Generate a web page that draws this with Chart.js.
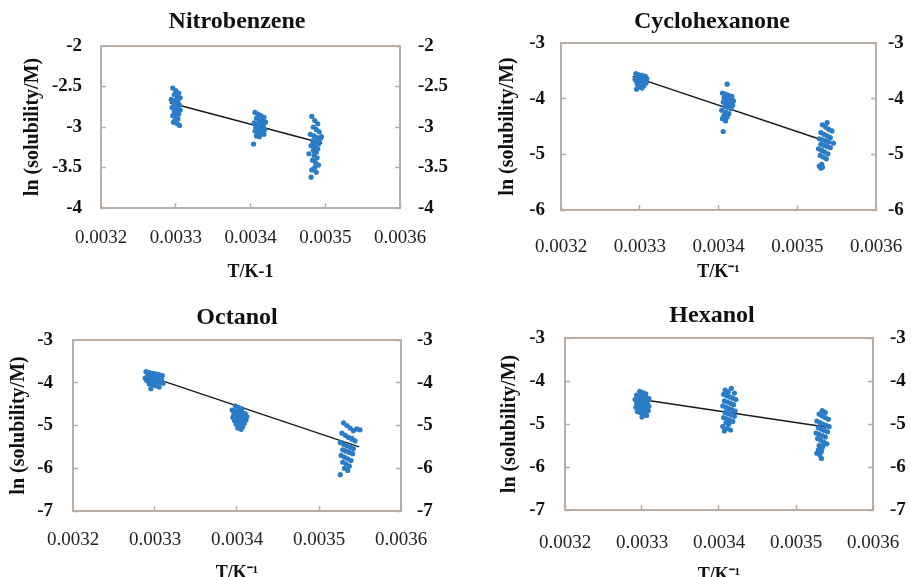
<!DOCTYPE html>
<html>
<head>
<meta charset="utf-8">
<script src="https://cdn.jsdelivr.net/npm/chart.js@4.4.1/dist/chart.umd.min.js"></script>
<style>
  body { margin: 0; width: 911px; height: 577px; overflow: hidden; background: #fff; position: relative; }
  canvas { position: absolute; }
</style>
</head>
<body>
<canvas id="c1" width="474" height="290" style="left:0px;top:0px"></canvas>
<canvas id="c2" width="474" height="290" style="left:475px;top:0px"></canvas>
<canvas id="c3" width="474" height="300" style="left:0px;top:290px"></canvas>
<canvas id="c4" width="474" height="300" style="left:475px;top:290px"></canvas>
<script>
/* --------------- Tick labels --------------- */
const xTicks = [0.0032, 0.0033, 0.0034, 0.0035, 0.0036];
const nitroYTicks = [-4, -3.5, -3, -2.5, -2];
const cycloYTicks = [-6, -5, -4, -3];
const octYTicks = [-7, -6, -5, -4, -3];
const hexYTicks = [-7, -6, -5, -4, -3];

/* --------------- Nitrobenzene (3 temperature clusters) --------------- */
const nitroX = [
  [0.003296,0.003300,0.003304,0.003298,0.003302,0.003306,0.003294,0.003300,0.003303,0.003297,0.003301,0.003305,0.003299,0.003295,0.003302,0.003306,0.003298,0.003301,0.003304,0.003296,0.003300,0.003303,0.003299,0.003297,0.003302,0.003305,0.003300,0.003298],
  [0.003406,0.003410,0.003414,0.003418,0.003408,0.003412,0.003416,0.003420,0.003405,0.003409,0.003413,0.003417,0.003407,0.003411,0.003415,0.003419,0.003406,0.003410,0.003414,0.003418,0.003408,0.003412,0.003416,0.003411,0.003415,0.003404],
  [0.003482,0.003486,0.003490,0.003484,0.003488,0.003492,0.003480,0.003485,0.003489,0.003493,0.003483,0.003487,0.003491,0.003481,0.003486,0.003490,0.003484,0.003488,0.003478,0.003485,0.003489,0.003483,0.003487,0.003491,0.003486,0.003482,0.003488,0.003495,0.003484,0.003481]
];
const nitroY = [
  [-2.52,-2.55,-2.58,-2.60,-2.62,-2.64,-2.66,-2.67,-2.69,-2.70,-2.72,-2.73,-2.75,-2.76,-2.78,-2.79,-2.81,-2.83,-2.84,-2.86,-2.88,-2.90,-2.92,-2.94,-2.96,-2.98,-2.74,-2.68],
  [-2.82,-2.84,-2.86,-2.88,-2.89,-2.91,-2.92,-2.94,-2.95,-2.96,-2.97,-2.98,-3.00,-3.01,-3.02,-3.03,-3.05,-3.06,-3.07,-3.09,-3.11,-3.12,-2.93,-2.99,-3.04,-3.21],
  [-2.87,-2.92,-2.96,-3.00,-3.03,-3.06,-3.09,-3.11,-3.13,-3.15,-3.17,-3.19,-3.21,-3.23,-3.25,-3.27,-3.29,-3.31,-3.33,-3.35,-3.38,-3.41,-3.44,-3.47,-3.50,-3.53,-3.56,-3.12,-3.22,-3.62]
];
const nitroFitX = [0.003292, 0.003496];
const nitroFitY = [-2.70, -3.20];

/* --------------- Cyclohexanone --------------- */
const cycloX = [
  [0.003295,0.003299,0.003303,0.003307,0.003297,0.003301,0.003305,0.003309,0.003294,0.003298,0.003302,0.003306,0.003296,0.003300,0.003304,0.003308,0.003297,0.003301,0.003305,0.003299,0.003303,0.003296],
  [0.003411,0.003405,0.003409,0.003413,0.003417,0.003407,0.003411,0.003415,0.003419,0.003406,0.003410,0.003414,0.003418,0.003408,0.003412,0.003416,0.003404,0.003409,0.003413,0.003407,0.003411,0.003405,0.003409,0.003406],
  [0.003538,0.003532,0.003536,0.003540,0.003544,0.003530,0.003534,0.003538,0.003542,0.003528,0.003532,0.003536,0.003540,0.003546,0.003530,0.003534,0.003538,0.003542,0.003527,0.003531,0.003535,0.003539,0.003529,0.003533,0.003537,0.003531,0.003528,0.003532,0.003530]
];
const cycloY = [
  [-3.55,-3.57,-3.58,-3.60,-3.61,-3.62,-3.63,-3.64,-3.65,-3.66,-3.67,-3.68,-3.69,-3.70,-3.71,-3.72,-3.74,-3.75,-3.77,-3.79,-3.81,-3.83],
  [-3.74,-3.90,-3.92,-3.94,-3.96,-3.98,-4.00,-4.02,-4.04,-4.06,-4.08,-4.10,-4.12,-4.14,-4.16,-4.18,-4.21,-4.24,-4.27,-4.30,-4.33,-4.36,-4.40,-4.59],
  [-4.43,-4.47,-4.51,-4.55,-4.58,-4.61,-4.64,-4.67,-4.70,-4.72,-4.74,-4.76,-4.78,-4.80,-4.82,-4.84,-4.86,-4.88,-4.90,-4.93,-4.96,-4.99,-5.02,-5.05,-5.08,-5.18,-5.21,-5.23,-5.25]
];
const cycloFitX = [0.003291, 0.003544];
const cycloFitY = [-3.60, -4.80];

/* --------------- Octanol --------------- */
const octX = [
  [0.003289,0.003293,0.003297,0.003301,0.003305,0.003309,0.003291,0.003295,0.003299,0.003303,0.003307,0.003288,0.003292,0.003296,0.003300,0.003304,0.003308,0.003290,0.003294,0.003298,0.003302,0.003306,0.003310,0.003293,0.003297,0.003301,0.003305,0.003295],
  [0.003398,0.003402,0.003406,0.003394,0.003398,0.003402,0.003406,0.003410,0.003396,0.003400,0.003404,0.003408,0.003412,0.003395,0.003399,0.003403,0.003407,0.003411,0.003397,0.003401,0.003405,0.003409,0.003399,0.003403,0.003407,0.003401,0.003405],
  [0.003530,0.003534,0.003538,0.003542,0.003546,0.003550,0.003528,0.003532,0.003536,0.003540,0.003544,0.003526,0.003530,0.003534,0.003538,0.003542,0.003529,0.003533,0.003537,0.003541,0.003527,0.003531,0.003535,0.003539,0.003529,0.003533,0.003537,0.003531,0.003535,0.003526,0.003540]
];
const octY = [
  [-3.74,-3.76,-3.78,-3.79,-3.81,-3.83,-3.84,-3.85,-3.86,-3.87,-3.88,-3.89,-3.90,-3.91,-3.92,-3.93,-3.94,-3.95,-3.96,-3.97,-3.98,-3.99,-4.01,-4.03,-4.05,-4.07,-4.10,-4.14],
  [-4.54,-4.58,-4.61,-4.64,-4.66,-4.68,-4.70,-4.72,-4.74,-4.75,-4.76,-4.78,-4.79,-4.81,-4.82,-4.84,-4.85,-4.87,-4.89,-4.91,-4.93,-4.95,-4.97,-5.00,-5.03,-5.06,-5.09],
  [-4.94,-5.00,-5.06,-5.12,-5.08,-5.10,-5.18,-5.23,-5.28,-5.32,-5.36,-5.40,-5.44,-5.48,-5.51,-5.54,-5.57,-5.60,-5.63,-5.66,-5.70,-5.74,-5.78,-5.82,-5.86,-5.90,-5.95,-6.00,-6.05,-6.15,-5.30]
];
const octFitX = [0.003291, 0.003549];
const octFitY = [-3.84, -5.50];

/* --------------- Hexanol --------------- */
const hexX = [
  [0.003297,0.003301,0.003305,0.003293,0.003297,0.003301,0.003305,0.003309,0.003291,0.003295,0.003299,0.003303,0.003307,0.003293,0.003297,0.003301,0.003305,0.003309,0.003292,0.003296,0.003300,0.003304,0.003308,0.003294,0.003298,0.003302,0.003306,0.003300],
  [0.003416,0.003408,0.003412,0.003420,0.003406,0.003410,0.003414,0.003418,0.003422,0.003407,0.003411,0.003415,0.003419,0.003405,0.003409,0.003413,0.003417,0.003421,0.003408,0.003412,0.003416,0.003420,0.003406,0.003410,0.003414,0.003418,0.003409,0.003413,0.003405,0.003411,0.003415,0.003407],
  [0.003534,0.003538,0.003530,0.003534,0.003538,0.003542,0.003527,0.003531,0.003535,0.003539,0.003543,0.003529,0.003533,0.003537,0.003541,0.003526,0.003530,0.003534,0.003538,0.003528,0.003532,0.003536,0.003540,0.003530,0.003534,0.003529,0.003533,0.003527,0.003531,0.003535,0.003533]
];
const hexY = [
  [-4.24,-4.27,-4.30,-4.33,-4.35,-4.37,-4.39,-4.41,-4.43,-4.45,-4.46,-4.48,-4.50,-4.52,-4.53,-4.55,-4.57,-4.59,-4.61,-4.63,-4.65,-4.67,-4.69,-4.71,-4.74,-4.77,-4.80,-4.84],
  [-4.17,-4.21,-4.25,-4.28,-4.31,-4.34,-4.37,-4.40,-4.43,-4.46,-4.49,-4.52,-4.55,-4.58,-4.61,-4.64,-4.67,-4.70,-4.73,-4.76,-4.79,-4.82,-4.85,-4.88,-4.91,-4.94,-4.97,-5.00,-5.06,-5.10,-5.14,-5.16],
  [-4.69,-4.73,-4.77,-4.81,-4.85,-4.89,-4.93,-4.97,-5.00,-5.03,-5.06,-5.09,-5.12,-5.15,-5.18,-5.21,-5.24,-5.27,-5.30,-5.34,-5.38,-5.42,-5.46,-5.50,-5.55,-5.60,-5.64,-5.68,-5.72,-5.50,-5.80]
];
const hexFitX = [0.003295, 0.003543];
const hexFitY = [-4.42, -5.08];

/* --------------- Style --------------- */
const serif = "'Liberation Serif', 'Times New Roman', serif";
const frameColor = "#b8aea6";
const dotColor = "#2a7cc7";
const yTitleText = "ln (solubility/M)";

// box around the plot area (Excel style)
const frame = {
  id: "frame",
  beforeDatasetsDraw(chart) {
    const { ctx, chartArea: a } = chart;
    ctx.save();
    ctx.strokeStyle = frameColor;
    ctx.lineWidth = 2;
    ctx.strokeRect(a.left, a.top, a.right - a.left, a.bottom - a.top);
    ctx.restore();
  }
};

const setTicks = (list) => (scale) => { scale.ticks = list.map(v => ({ value: v })); };

function yAxis(p, pos, width, pad, withTitle) {
  return {
    type: "linear",
    position: pos,
    min: p.yTicks[0],
    max: p.yTicks[p.yTicks.length - 1],
    afterBuildTicks: setTicks(p.yTicks),
    afterFit: (s) => { s.width = width; },
    grid: { drawOnChartArea: false, drawTicks: true, tickLength: -5, tickColor: frameColor, tickWidth: 1.5 },
    border: { display: false },
    ticks: {
      padding: pad,
      color: "#111",
      font: { family: serif, size: 19, weight: "bold" },
      callback: (v) => String(v)
    },
    title: {
      display: withTitle,
      text: yTitleText,
      color: "#111",
      font: { family: serif, size: 20, weight: "bold", lineHeight: 1.2 },
      padding: { top: p.yTitlePad, bottom: 0 }
    }
  };
}

function makeChart(p) {
  const points = [];
  p.xs.forEach((cx, k) => cx.forEach((x, i) => points.push({ x: x, y: p.ys[k][i] })));
  const fit = p.fitX.map((x, i) => ({ x: x, y: p.fitY[i] }));

  return new Chart(document.getElementById(p.id), {
    type: "scatter",
    plugins: [frame],
    data: {
      datasets: [
        { data: points, backgroundColor: dotColor, borderWidth: 0, pointRadius: 2.6, yAxisID: "y" },
        { data: fit, showLine: true, borderColor: "#1a1a1a", borderWidth: 1.5, pointRadius: 0, yAxisID: "y" }
      ]
    },
    options: {
      responsive: false,
      animation: false,
      layout: { padding: 0 },
      plugins: {
        legend: { display: false },
        tooltip: { enabled: false },
        title: {
          display: true,
          text: p.title,
          color: "#111",
          font: { family: serif, size: 24, weight: "bold", lineHeight: 1.2 },
          padding: { top: p.titlePad[0], bottom: p.titlePad[1] }
        }
      },
      scales: {
        x: {
          type: "linear",
          position: "bottom",
          min: xTicks[0],
          max: xTicks[xTicks.length - 1],
          afterBuildTicks: setTicks(xTicks),
          afterFit: (s) => { s.height = p.xHeight; },
          grid: { drawOnChartArea: false, drawTicks: true, tickLength: -5, tickColor: frameColor, tickWidth: 1.5 },
          border: { display: false },
          ticks: {
            padding: p.xLabelPad,
            color: "#222",
            maxRotation: 0,
            font: { family: serif, size: 19 },
            callback: (v) => Number(v).toFixed(4)
          },
          title: {
            display: true,
            text: p.xTitle,
            color: "#111",
            font: { family: serif, size: 18, weight: "bold", lineHeight: 1.2 },
            padding: { top: 0, bottom: p.xTitlePad }
          }
        },
        y: yAxis(p, "left", p.leftW, p.yLabelPad, true),
        y2: yAxis(p, "right", p.rightW, p.y2LabelPad, false)
      }
    }
  });
}

/* --------------- Panels --------------- */
makeChart({ id: "c1", title: "Nitrobenzene", xTitle: "T/K-1",
  xs: nitroX, ys: nitroY, fitX: nitroFitX, fitY: nitroFitY, yTicks: nitroYTicks,
  leftW: 101, rightW: 74, xHeight: 82, titlePad: [7.6, 9.6],
  yLabelPad: 24, y2LabelPad: 23, xLabelPad: 23.6, xTitlePad: 7.2, yTitlePad: 21 });

makeChart({ id: "c2", title: "Cyclohexanone", xTitle: "T/K\u207B\u00B9",
  xs: cycloX, ys: cycloY, fitX: cycloFitX, fitY: cycloFitY, yTicks: cycloYTicks,
  leftW: 86, rightW: 73, xHeight: 80, titlePad: [7.6, 6.6],
  yLabelPad: 21, y2LabelPad: 17, xLabelPad: 31, xTitlePad: 7.2, yTitlePad: 21 });

makeChart({ id: "c3", title: "Octanol", xTitle: "T/K\u207B\u00B9",
  xs: octX, ys: octY, fitX: octFitX, fitY: octFitY, yTicks: octYTicks,
  leftW: 73, rightW: 73, xHeight: 79, titlePad: [13.6, 7.6],
  yLabelPad: 25, y2LabelPad: 21, xLabelPad: 22.6, xTitlePad: 6.2, yTitlePad: 7 });

makeChart({ id: "c4", title: "Hexanol", xTitle: "T/K\u207B\u00B9",
  xs: hexX, ys: hexY, fitX: hexFitX, fitY: hexFitY, yTicks: hexYTicks,
  leftW: 90, rightW: 76, xHeight: 80, titlePad: [11.6, 7.6],
  yLabelPad: 25, y2LabelPad: 22, xLabelPad: 26.6, xTitlePad: 4.2, yTitlePad: 23 });
</script>
</body>
</html>
